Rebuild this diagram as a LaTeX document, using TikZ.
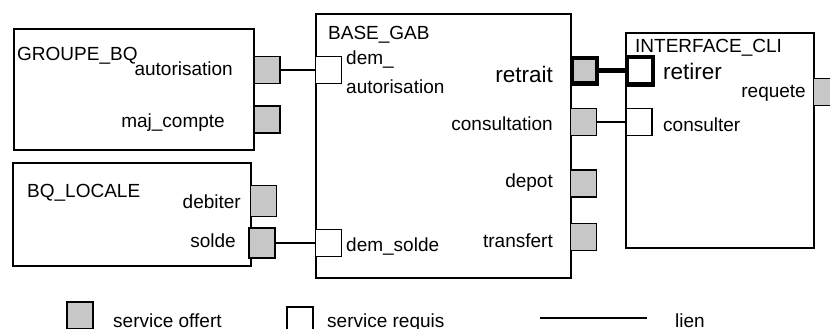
\documentclass[tikz,border=0pt]{standalone}
\usepackage{fontspec}
\setmainfont{Liberation Sans}
\usetikzlibrary{positioning}
\tikzstyle{comp} = [rectangle, draw, line width=1.6pt, anchor=north west, inner sep=0pt]
\tikzstyle{offert} = [rectangle, draw, line width=1.8pt, fill=black!22, minimum width=26pt, minimum height=27pt, inner sep=0pt]
\tikzstyle{requis} = [rectangle, draw, line width=1.8pt, fill=white, minimum width=26pt, minimum height=27pt, inner sep=0pt]
\tikzstyle{txt} = [inner sep=0pt, font=\fontsize{19}{21}\selectfont]
\tikzstyle{bigtxt} = [inner sep=0pt, font=\fontsize{22.5}{25}\selectfont]
\tikzstyle{lien} = [line width=1.8pt]

\begin{document}
\begin{tikzpicture}[x=1pt, y=-1pt]
        \clip (0,0) rectangle (830,329);

        % Left Side: GROUPE_BQ
        \node[comp, minimum width=240pt, minimum height=121pt] (groupe_bq) at (13,28) {};
        \node[txt, anchor=base west] (groupe_bq_lbl) at (17,60) {GROUPE\_BQ};
        \node[offert] (autorisation) at (267,70) {};
        \node[offert] (maj_compte) at (267,119.5) {};
        \node[txt, anchor=base east] (autorisation_lbl) at (233,76) {autorisation};
        \node[txt, anchor=base east] (maj_compte_lbl) at (225,127) {maj\_compte};

        % Left Side: BQ_LOCALE
        \node[comp, minimum width=238pt, minimum height=103pt] (bq_locale) at (12,162) {};
        \node[txt, anchor=base west] (bq_locale_lbl) at (27,197) {BQ\_LOCALE};
        \node[offert, minimum height=31pt] (debiter) at (263.5,201) {};
        \node[offert, minimum height=30pt] (solde) at (262,243) {};
        \node[txt, anchor=base east] (debiter_lbl) at (241,208) {debiter};
        \node[txt, anchor=base east] (solde_lbl) at (236,247) {solde};

        % Middle: BASE_GAB
        \node[comp, minimum width=255pt, minimum height=264pt] (base_gab) at (315,13) {};
        \node[txt, anchor=base west] (base_gab_lbl) at (328,40) {BASE\_GAB};
        \node[requis] (dem_autorisation) at (328.5,70) {};
        \node[requis] (dem_solde) at (328.5,243) {};
        \node[offert, line width=4pt, minimum width=25pt, minimum height=25pt] (retrait) at (584,71) {};
        \node[offert] (consultation) at (583.5,122) {};
        \node[offert] (depot) at (583.5,183.5) {};
        \node[offert] (transfert) at (583.5,237) {};
        \node[txt, anchor=base west] (dem_lbl) at (346,65) {dem\_};
        \node[txt, anchor=base west] (dem_autorisation_lbl) at (346,93) {autorisation};
        \node[txt, anchor=base west] (dem_solde_lbl) at (346,251) {dem\_solde};
        \node[bigtxt, anchor=base east] (retrait_lbl) at (553,82) {retrait};
        \node[txt, anchor=base east] (consultation_lbl) at (553,130) {consultation};
        \node[txt, anchor=base east] (depot_lbl) at (553,187) {depot};
        \node[txt, anchor=base east] (transfert_lbl) at (553,247) {transfert};

        % Right Side: INTERFACE_CLI
        \node[comp, minimum width=188pt, minimum height=215pt] (interface_cli) at (625,32) {};
        \node[txt, anchor=base west] (interface_cli_lbl) at (635,53) {INTERFACE\_CLI};
        \node[requis, line width=4pt, minimum width=26pt, minimum height=27pt] (retirer) at (639.5,71) {};
        \node[requis] (consulter) at (639,122) {};
        \node[offert] (requete) at (826.5,92) {};
        \node[bigtxt, anchor=base west] (retirer_lbl) at (663,80) {retirer};
        \node[txt, anchor=base west] (consulter_lbl) at (663,131) {consulter};
        \node[txt, anchor=base east] (requete_lbl) at (806,97) {requete};

        % Liens
        \draw[lien] (autorisation) -- (dem_autorisation);
        \draw[lien] (solde) -- (dem_solde);
        \draw[lien, line width=5pt] (retrait) -- (retirer);
        \draw[lien] (consultation) -- (consulter);

        % Legende
        \node[offert] (leg_offert) at (80,315.5) {};
        \node[txt, anchor=base west] (leg_offert_lbl) at (113,327) {service offert};
        \node[requis] (leg_requis) at (300,320.5) {};
        \node[txt, anchor=base west] (leg_requis_lbl) at (327,327) {service requis};
        \coordinate (lien_a) at (540,318);
        \coordinate (lien_b) at (647,318);
        \draw[lien] (lien_a) -- (lien_b);
        \node[txt, anchor=base west] (leg_lien_lbl) at (675,327) {lien};
    \end{tikzpicture}
\end{document}
